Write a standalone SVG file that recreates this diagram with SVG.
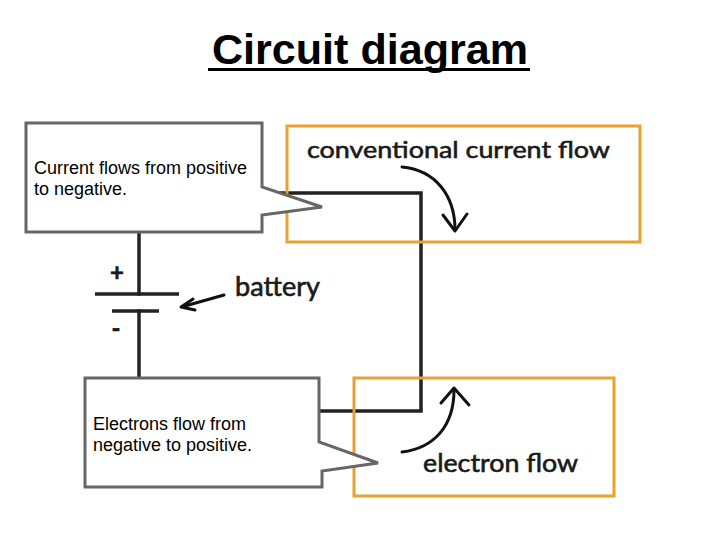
<svg xmlns="http://www.w3.org/2000/svg" width="720" height="540" viewBox="0 0 720 540">
<style>
.wire{fill:none;stroke:#222;stroke-width:3.5;stroke-linecap:square}
.flowbox{fill:none;stroke:#E9A12F;stroke-width:3}
.callout{fill:#fff;stroke:#666;stroke-width:3;stroke-linejoin:miter}
.ctext{font-family:"Liberation Sans",Arial,sans-serif;font-size:18px;fill:#000}
.label{font-family:Lato,"DejaVu Sans",sans-serif;fill:#1a1a1a;stroke:#1a1a1a;stroke-width:0.6}
.arrow{fill:none;stroke:#111;stroke-width:3;stroke-linecap:round;stroke-linejoin:round}
</style>
<rect width="720" height="540" fill="#fff"/>
<g id="title">
<text x="370" y="64" text-anchor="middle" font-family="'Liberation Sans',Arial,sans-serif" font-weight="bold" font-size="43" fill="#000" textLength="316" lengthAdjust="spacingAndGlyphs">Circuit diagram</text>
<line x1="208" y1="69.5" x2="530" y2="69.5" stroke="#000" stroke-width="3"/>
</g>
<g id="connectors">
<polyline class="wire" points="262,193 421,193 421,411 319,411"/>
<line class="wire" x1="139" y1="232" x2="139" y2="294"/>
<line class="wire" x1="139" y1="311" x2="139" y2="378"/>
</g>
<g id="battery">
<line x1="95" y1="294" x2="179" y2="294" stroke="#222" stroke-width="3.5"/>
<line x1="112" y1="311" x2="159" y2="311" stroke="#222" stroke-width="3.5"/>
<text class="label" x="117" y="281" text-anchor="middle" font-size="24" font-weight="bold">+</text>
<text class="label" x="116" y="337" text-anchor="middle" font-size="24" font-weight="bold">-</text>
<text class="label" x="235" y="296" font-size="26" textLength="85" lengthAdjust="spacingAndGlyphs">battery</text>
<line class="arrow" x1="224" y1="295" x2="185" y2="306"/>
<polyline class="arrow" points="193,299 181,307 195,310"/>
</g>
<g id="conventional-flow">
<rect class="flowbox" x="287" y="126" width="353" height="116"/>
<text class="label" x="307" y="158" font-size="24" textLength="303" lengthAdjust="spacingAndGlyphs">conventional current flow</text>
<path class="arrow" d="M402,167 C435,170 455,195 455,230"/>
<polyline class="arrow" points="443,215 455,231 467,214"/>
</g>
<g id="electron-flow">
<rect class="flowbox" x="354" y="378" width="260" height="118"/>
<text class="label" x="423" y="472" font-size="25" textLength="155" lengthAdjust="spacingAndGlyphs">electron flow</text>
<path class="arrow" d="M402,452 C435,448 454,425 454,390"/>
<polyline class="arrow" points="441,403 454,388 469,405"/>
</g>
<g id="callout-current">
<path class="callout" d="M26,123 H262 V187 L322,207 L262,215 V232 H26 Z"/>
<text class="ctext" x="34" y="174">Current flows from positive</text>
<text class="ctext" x="34" y="195">to negative.</text>
</g>
<g id="callout-electrons">
<path class="callout" d="M85,378 H319 V442 L378,463 L322,471 V487 H85 Z"/>
<text class="ctext" x="93" y="430">Electrons flow from</text>
<text class="ctext" x="93" y="451">negative to positive.</text>
</g>
</svg>
